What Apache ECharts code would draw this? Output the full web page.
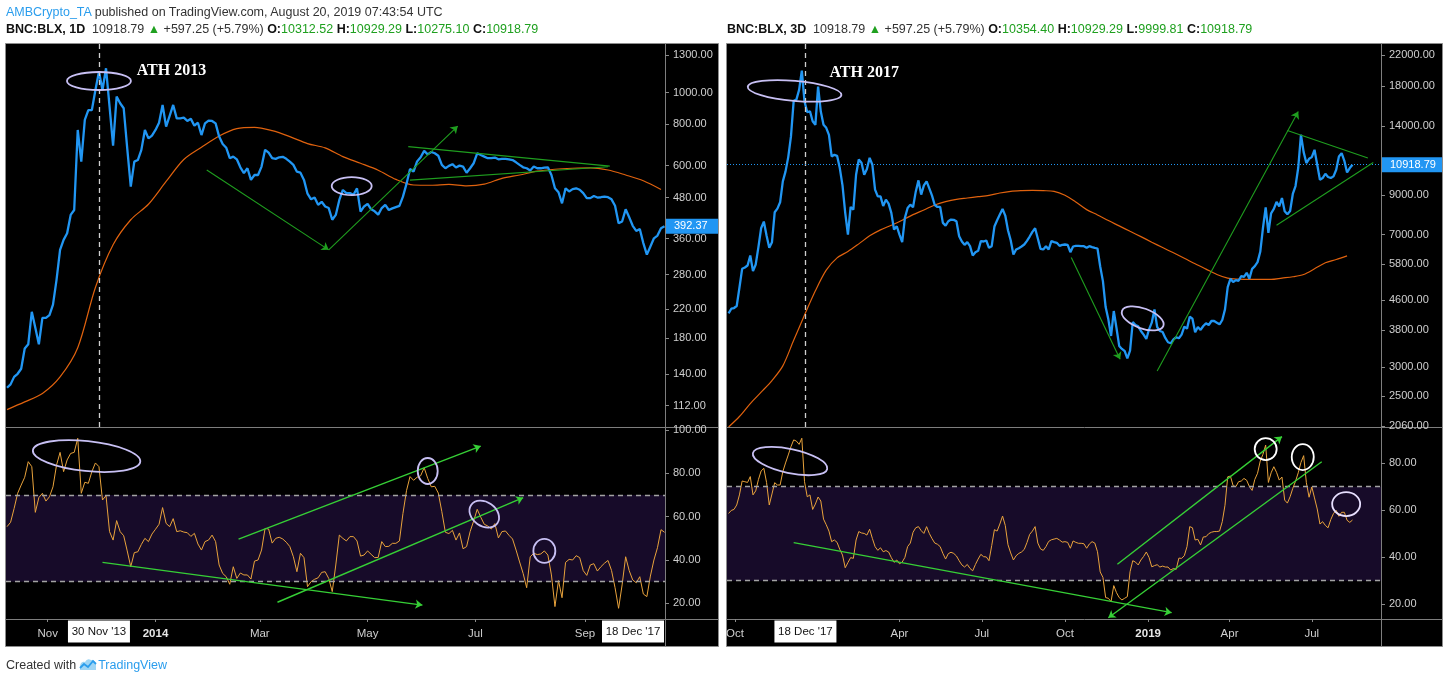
<!DOCTYPE html>
<html>
<head>
<meta charset="utf-8">
<title>BNC:BLX</title>
<script src="https://cdn.jsdelivr.net/npm/echarts@6.0.0/dist/echarts.min.js"></script>
<style>
html,body{margin:0;padding:0;width:1449px;height:683px;background:#fff;overflow:hidden;}
body{font-family:"Liberation Sans",Arial,sans-serif;}
#chart{position:absolute;left:0;top:0;width:1449px;height:683px;}
.t{position:absolute;white-space:nowrap;font-size:12.5px;color:#333;line-height:16px;}
.b{font-weight:bold;color:#111;}
.g{color:#1fa01f;}
.bl{color:#2a9ded;}
.lg{display:inline-block;vertical-align:-2px;margin:0 1px 0 3px;}
</style>
</head>
<body>
<div id="chart"></div>
<div class="t" style="left:6px;top:4px;"><span class="bl">AMBCrypto_TA</span> published on TradingView.com, August 20, 2019 07:43:54 UTC</div>
<div class="t" style="left:6px;top:21px;"><span class="b">BNC:BLX, 1D</span>&nbsp; 10918.79 <span class="g">▲</span> +597.25 (+5.79%) <span class="b">O:</span><span class="g">10312.52</span> <span class="b">H:</span><span class="g">10929.29</span> <span class="b">L:</span><span class="g">10275.10</span> <span class="b">C:</span><span class="g">10918.79</span></div>
<div class="t" style="left:727px;top:21px;"><span class="b">BNC:BLX, 3D</span>&nbsp; 10918.79 <span class="g">▲</span> +597.25 (+5.79%) <span class="b">O:</span><span class="g">10354.40</span> <span class="b">H:</span><span class="g">10929.29</span> <span class="b">L:</span><span class="g">9999.81</span> <span class="b">C:</span><span class="g">10918.79</span></div>
<div class="t" style="left:6px;top:657px;">Created with<svg class="lg" width="18" height="13" viewBox="0 0 18 13"><path d="M1 12 L1 8 Q2 3 6 4 Q8 0 12 2 Q17 2 17 7 L17 12 Z" fill="#9fd6f5"/><path d="M1 10 L5 6 L9 9 L14 3 L17 6" fill="none" stroke="#2a9ded" stroke-width="1.8"/></svg><span class="bl">TradingView</span></div>
<script>
// ---------------- data ----------------
const leftStart = '2013-10-09', leftStep = 2;
const leftPrice = [127,130,137,140,145,167,172,216,193,172,
207,207,211,227,270,333,357,374,425,440,
770,617,826,885,885,1018,1157,1018,1185,906,
690,972,928,896,677,518,617,624,670,770,
726,740,770,810,917,788,849,917,835,835,
839,820,832,793,810,743,806,822,820,806,
735,698,680,632,639,627,593,569,589,543,
562,562,596,670,657,632,629,636,638,629,
617,603,575,571,543,493,474,480,456,466,
451,446,411,425,472,506,495,495,489,512,
435,451,459,442,436,426,446,456,440,445,
449,453,483,528,586,575,618,636,665,649,
660,654,643,603,589,599,606,592,600,596,
571,589,610,654,646,639,632,632,635,627,
629,629,627,624,614,603,593,589,580,596,
589,589,592,593,562,512,498,461,512,501,
509,512,507,495,478,478,485,480,481,483,
481,474,453,401,406,442,418,394,380,385,
349,322,341,361,368,387,392.37];
const leftRsi = [55.4,57.4,63.8,70.8,74.6,78.2,85.4,83.1,62.0,68.8,
70.8,67.2,69.2,73.8,83.8,89.7,80.8,86.2,89.2,89.7,
96.2,70.8,75.9,75.4,80.8,84.8,83.1,67.7,69.7,53.1,
49.2,58.2,53.1,51.2,44.2,36.9,43.4,43.8,47.2,50.0,
48.5,52.0,54.2,56.5,64.2,56.9,55.4,59.1,53.1,53.5,
52.9,52.6,50.9,52.3,47.4,44.6,48.5,49.2,51.5,48.5,
37.7,33.8,32.3,28.8,36.9,31.5,34.0,33.1,33.1,31.2,
39.5,40.0,44.6,54.6,54.3,47.8,50.0,50.5,49.7,48.2,
46.2,41.5,34.6,43.1,41.1,27.7,30.0,31.1,31.8,34.3,
34.6,31.5,25.4,37.7,51.5,50.0,48.8,50.8,50.8,48.8,
41.8,42.3,44.2,42.6,41.1,41.2,48.5,46.2,46.3,47.7,
47.7,48.8,61.5,72.0,78.5,76.8,78.2,78.9,82.6,77.7,
73.8,74.0,70.9,62.3,52.8,52.2,53.7,49.2,52.5,45.2,
46.2,53.1,58.0,63.4,59.8,56.5,55.7,54.3,56.8,50.2,
53.1,53.4,51.4,49.7,44.6,39.1,33.8,27.2,41.5,43.1,
42.5,42.8,44.2,42.3,33.1,18.5,30.5,22.6,38.9,40.3,
40.0,42.0,41.1,35.1,32.9,37.7,38.3,34.9,36.9,38.5,
39.8,35.2,27.2,17.7,28.5,41.5,35.1,30.8,29.5,32.3,
24.3,23.1,32.6,40.0,45.7,54.0,52.8];
const leftMaStart = '2013-10-09', leftMaStep = 10;
const leftMa = [109,115,122,137,168,256,345,411,458,537,
626,682,738,777,784,766,735,700,679,639,
610,581,545,524,523,526,521,527,549,562,
577,585,589,591,582,562,540,508];

const rightStart = '2017-09-24', rightStep = 3;
const rightPrice = [4233,4360,4379,4435,4984,5624,5672,5744,6121,5541,
5781,6456,7286,7601,6954,6429,6665,8066,8256,8596,
9825,10469,11468,13084,16415,16555,17607,19906,16346,15273,
15370,14422,14090,17984,15338,14090,13825,13223,11516,11639,
11565,10693,9578,8032,6998,8345,8204,10250,11299,11062,
10250,10625,11418,10923,9317,8930,8930,8398,8743,8524,
8032,7224,7379,6998,6665,7781,8292,8470,8327,9200,
9887,9026,9578,9825,9397,8968,8452,8345,8345,7537,
7410,7618,7699,7683,7618,6924,6694,6553,6665,6498,
6121,6254,6308,6708,6694,6736,6429,6498,7364,7666,
7948,8239,7898,7193,6750,6161,6361,6415,6484,6567,
6722,6910,7118,7286,6822,6388,6361,6498,6361,6708,
6665,6637,6512,6553,6567,6553,6254,6484,6512,6512,
6498,6498,6429,6498,6457,6429,6402,5708,5200,4406,
4074,3664,4296,3856,3438,3373,3330,3178,3337,4006,
3930,3897,3783,3695,3595,3823,3989,4342,3880,3783,
3759,3618,3520,3497,3587,3634,3610,3695,3888,3839,
4144,4091,3751,3880,3807,3905,3972,3930,4031,4031,
3989,3947,4057,4342,5006,5277,5167,5233,5211,5367,
5344,5483,5277,5624,5720,5868,6268,7301,8327,7073,
8015,8239,8614,8380,8836,8117,7964,8135,9064,9537,
10716,13223,11839,11039,11347,11468,12016,10923,9929,10035,
10314,10099,10035,10142,10580,11516,11764,11199,10403,10693,
10918.79];
const rightRsi = [58.6,59.9,60.3,62.2,66.5,72.4,72.1,71.8,74.3,66.5,
68.2,73.0,76.7,77.8,71.8,62.2,66.9,71.7,70.7,70.7,
76.4,80.1,83.5,87.0,89.9,89.4,88.0,90.6,72.1,65.7,
66.5,60.3,62.6,65.6,63.9,56.2,53.8,51.1,46.6,47.3,
46.3,43.3,40.9,35.5,37.7,39.8,39.5,47.3,50.9,50.3,
50.1,49.4,51.9,48.0,44.5,42.9,44.0,42.3,42.8,42.2,
39.8,37.8,38.8,37.2,37.9,39.9,44.5,46.0,50.6,52.5,
53.0,51.3,50.1,53.0,50.1,47.9,46.0,45.5,44.5,41.6,
39.2,41.5,42.1,41.6,40.5,38.5,36.7,35.8,36.9,35.2,
34.2,36.9,39.2,41.2,40.2,40.1,38.5,44.9,51.7,51.1,
54.1,57.5,53.5,45.3,41.8,38.8,40.6,41.6,42.2,43.3,
46.2,49.7,51.1,53.0,46.0,43.5,42.9,44.5,46.7,47.4,
47.7,48.0,47.3,46.4,46.6,46.3,43.8,46.9,46.3,45.9,
45.9,45.7,43.8,45.6,46.6,46.0,42.3,33.7,31.4,22.8,
22.5,21.1,27.9,24.9,22.8,21.8,22.5,23.2,33.8,38.5,
37.9,36.7,38.8,40.3,42.2,39.9,35.9,36.4,36.8,35.8,
36.2,35.8,35.8,34.5,35.2,34.8,39.6,39.5,40.6,44.5,
53.0,52.5,47.3,47.6,45.2,48.6,48.7,50.0,50.6,50.9,
50.9,51.1,55.1,62.1,74.2,74.5,70.4,70.0,72.1,72.4,
73.5,72.7,70.0,68.4,73.1,75.7,80.9,83.8,87.7,71.8,
75.9,78.5,76.1,72.8,74.1,64.3,63.0,65.7,69.3,72.3,
75.9,80.3,83.2,71.7,65.5,69.9,65.2,60.5,54.1,55.1,
53.5,52.5,56.0,58.6,59.9,57.4,59.1,59.1,55.7,54.8,
55.8];
const rightMaStart = '2017-09-24', rightMaStep = 12;
const rightMa = [2050,2192,2381,2560,2757,3027,3564,4188,4889,5577,
6031,6281,6594,6939,7209,7426,7666,7946,8186,8451,
8632,8761,8836,8911,8987,9122,9219,9259,9278,9259,
9219,8987,8614,8204,7930,7650,7395,7145,6906,6665,
6441,6228,6018,5806,5612,5425,5300,5266,5255,5255,
5255,5300,5345,5425,5623,5843,5968,6108];

// tick labels
const leftPriceTicks = [112,140,180,220,280,360,480,600,800,1000,1300];
const rightPriceTicks = [2060,2500,3000,3800,4600,5800,7000,9000,14000,18000,22000];
const leftRsiTicks = [20,40,60,80,100];
const rightRsiTicks = [20,40,60,80];
const leftTimeTicks = ['2013-11-01','2014-01-01','2014-03-01','2014-05-01','2014-07-01','2014-09-01'];
const leftTimeLabels = ['Nov','2014','Mar','May','Jul','Sep'];
const rightTimeTicks = ['2017-10-01','2018-04-01','2018-07-01','2018-10-01','2019-01-01','2019-04-01','2019-07-01'];
const rightTimeLabels = ['Oct','Apr','Jul','Oct','2019','Apr','Jul'];
const crossLeft = '2013-11-30', crossRight = '2017-12-18';
const crossLeftLabel = "30 Nov '13", crossRightLabel = "18 Dec '17";
const rsiLevels = [30, 70];

// drawn annotations (data coordinates): [date1, value1, date2, value2, arrow]
const leftPriceLines = [
  ['2014-01-30', 582, '2014-04-09', 333, 'end'],
  ['2014-04-09', 333, '2014-06-21', 791, 'end'],
  ['2014-05-24', 685, '2014-09-15', 598, 'none'],
  ['2014-05-25', 542, '2014-09-14', 595, 'none']
];
const leftRsiLines = [
  ['2013-12-02', 38.9, '2014-06-01', 19.2, 'end'],
  ['2014-02-17', 49.6, '2014-07-04', 92.6, 'end'],
  ['2014-03-11', 20.5, '2014-07-28', 68.75, 'end']
];
const rightPriceLines = [
  ['2018-10-08', 6046, '2018-12-01', 3157, 'end'],
  ['2019-01-11', 2930, '2019-06-16', 15334, 'end'],
  ['2019-06-04', 13587, '2019-09-01', 11402, 'none'],
  ['2019-05-23', 7423, '2019-09-07', 11086, 'none']
];
const rightRsiLines = [
  ['2017-12-05', 46.2, '2019-01-27', 16.4, 'end'],
  ['2018-11-28', 37.0, '2019-05-29', 91.3, 'end'],
  ['2018-11-18', 14.2, '2019-07-12', 80.6, 'start']
];
// circled spots: [pane, date, value]
const circleSpots = [
  ['lp','2013-11-30',1084], ['lp','2014-04-22',520],
  ['lr','2013-11-23',88.0], ['lr','2014-06-04',81.1], ['lr','2014-07-06',61.2], ['lr','2014-08-09',44.2],
  ['rp','2017-12-06',17497], ['rp','2018-12-26',4099],
  ['rr','2017-12-01',80.9], ['rr','2019-05-11',86.0], ['rr','2019-06-21',82.6], ['rr','2019-08-08',62.6]
];
const noteTexts = [['lp','2014-01-10',1166,'ATH 2013'], ['rp','2018-02-21',19620,'ATH 2017']];

// ---------------- styles ----------------
const circleShapes = [ // rx, ry, clockwise deg, color
  [32,9,0,'#c8c0f4'],[20,9,0,'#c8c0f4'],
  [54,15,6,'#c8c0f4'],[10,13,0,'#c8c0f4'],[16,12,35,'#c8c0f4'],[11,12,0,'#c8c0f4'],
  [47,10,5,'#c8c0f4'],[22,10,20,'#c8c0f4'],
  [38,12,12,'#c8c0f4'],[11,11,0,'#ffffff'],[11,13,0,'#ffffff'],[14,12,0,'#e8e0ff']
];
const FONT = '"Liberation Sans", Arial, sans-serif';
const BLUE = '#2196f3', MA = '#e0620e', RSI = '#e9a33c';
const GREEN_D = '#1f9e1f', GREEN_B = '#36cf36';

function toTime(s, extraDays) {
  const p = s.split('-').map(Number);
  return new Date(p[0], p[1]-1, p[2]).getTime() + (extraDays || 0) * 86400000;
}
function series(start, step, arr, tf) {
  const p = start.split('-').map(Number);
  return arr.map((v, i) => [new Date(p[0], p[1]-1, p[2] + i*step).getTime(), tf ? tf(v) : v]);
}
const lg = Math.log10;
const Lmin = toTime('2013-10-08', 0.41), Lmax = toTime('2014-10-16', 0.26);
const Rmin = toTime('2017-09-22', 0.26), Rmax = toTime('2019-09-15', 0.53);

function mkLines(lines, tf, color, width) {
  return lines.map(([d1,v1,d2,v2,arrow]) => [
    {coord:[toTime(d1), tf(v1)], symbol: arrow==='start'?'arrow':'none', symbolSize:7, lineStyle:{color:color, width:width, type:'solid'}},
    {coord:[toTime(d2), tf(v2)], symbol: arrow==='end'?'arrow':'none', symbolSize:7}
  ]);
}
const ident = v => v;

// date axes are value axes holding timestamps
function timeAxis(grid, min, max, ticks, labels, show) {
  const tickTimes = ticks.map(s => toTime(s));
  return {
    gridIndex: grid, type:'value', min:min, max:max, show: show, scale:true,
    splitLine:{show:false}, axisLine:{show:false},
    axisTick:{show:true, customValues: tickTimes, length:3, lineStyle:{color:'#8a8a8a'}},
    axisLabel:{customValues: tickTimes, color:'#cfcfcf', fontSize:11.5, fontFamily:FONT, margin:9,
      formatter: v => { let k = -1; tickTimes.forEach((t,i) => { if (Math.abs(t - v) < 3600000) k = i; });
        if (k < 0) return ''; const l = labels[k]; return /^\d{4}$/.test(l) ? '{b|' + l + '}' : l; },
      rich:{b:{fontWeight:'bold', color:'#e6e6e6', fontSize:11.5, fontFamily:FONT}}}
  };
}
function valAxis(grid, min, max, ticks, tf, fmt) {
  const cv = ticks.map(tf);
  return {
    gridIndex: grid, type:'value', position:'right', min:min, max:max, scale:true,
    splitLine:{show:false}, axisLine:{show:false},
    axisTick:{show:true, customValues: cv, length:4, lineStyle:{color:'#8a8a8a'}},
    axisLabel:{customValues: cv, color:'#cfcfcf', fontSize:11, fontFamily:FONT, margin:8, formatter: fmt}
  };
}
const priceFmt = v => Math.pow(10, v).toFixed(2);
const rsiFmt = v => Number(v).toFixed(2);

const chart = echarts.init(document.getElementById('chart'), null, {renderer:'canvas'});
const option = {
  animation:false,
  backgroundColor:'transparent',
  grid:[
    {left:6, top:43, width:659, height:384, outerBoundsMode:'none'},
    {left:6, top:427, width:659, height:192, outerBoundsMode:'none'},
    {left:727, top:43, width:654, height:384, outerBoundsMode:'none'},
    {left:727, top:427, width:654, height:192, outerBoundsMode:'none'}
  ],
  xAxis:[
    timeAxis(0, Lmin, Lmax, leftTimeTicks, leftTimeLabels, false),
    timeAxis(1, Lmin, Lmax, leftTimeTicks, leftTimeLabels, true),
    timeAxis(2, Rmin, Rmax, rightTimeTicks, rightTimeLabels, false),
    timeAxis(3, Rmin, Rmax, rightTimeTicks, rightTimeLabels, true)
  ],
  yAxis:[
    valAxis(0, lg(96.5), lg(1414), leftPriceTicks, lg, priceFmt),
    valAxis(1, 12.77, 101.4, leftRsiTicks, ident, rsiFmt),
    valAxis(2, lg(2050), lg(23750), rightPriceTicks, lg, priceFmt),
    valAxis(3, 13.69, 95.39, rightRsiTicks, ident, rsiFmt)
  ],
  series:[
    {type:'line', xAxisIndex:0, yAxisIndex:0, data: series(leftMaStart, leftMaStep, leftMa, lg), smooth:0.3, showSymbol:false, symbol:'none', lineStyle:{color:MA, width:1.2}, z:2},
    {type:'line', xAxisIndex:0, yAxisIndex:0, data: series(leftStart, leftStep, leftPrice, lg), showSymbol:false, symbol:'none', lineStyle:{color:BLUE, width:2.3}, z:3,
      markLine:{silent:true, symbol:'none', label:{show:false}, z:6,
        data:[{xAxis: toTime(crossLeft), lineStyle:{color:'#cfcfcf', type:[5,4], width:1.3}}].concat(mkLines(leftPriceLines, lg, GREEN_D, 1.1))}},
    {type:'line', xAxisIndex:1, yAxisIndex:1, data: series(leftStart, leftStep, leftRsi), showSymbol:false, symbol:'none', lineStyle:{color:RSI, width:1}, z:3,
      markArea:{silent:true, itemStyle:{color:'#170b29'}, data:[[{yAxis:rsiLevels[0]},{yAxis:rsiLevels[1]}]]},
      markLine:{silent:true, symbol:'none', label:{show:false}, z:6,
        data: rsiLevels.map(l => ({yAxis:l, lineStyle:{color:'#a3a3a3', type:[5,4], width:1.4}})).concat(mkLines(leftRsiLines, ident, GREEN_B, 1.4))}},
    {type:'line', xAxisIndex:2, yAxisIndex:2, data: series(rightMaStart, rightMaStep, rightMa, lg), smooth:0.3, showSymbol:false, symbol:'none', lineStyle:{color:MA, width:1.2}, z:2},
    {type:'line', xAxisIndex:2, yAxisIndex:2, data: series(rightStart, rightStep, rightPrice, lg), showSymbol:false, symbol:'none', lineStyle:{color:BLUE, width:2.3}, z:3,
      markLine:{silent:true, symbol:'none', label:{show:false}, z:6,
        data:[{xAxis: toTime(crossRight), lineStyle:{color:'#cfcfcf', type:[5,4], width:1.3}},
              {yAxis: lg(rightPrice[rightPrice.length-1]), lineStyle:{color:BLUE, type:[1,2], width:1}}].concat(mkLines(rightPriceLines, lg, GREEN_D, 1.1))}},
    {type:'line', xAxisIndex:3, yAxisIndex:3, data: series(rightStart, rightStep, rightRsi), showSymbol:false, symbol:'none', lineStyle:{color:RSI, width:1}, z:3,
      markArea:{silent:true, itemStyle:{color:'#170b29'}, data:[[{yAxis:rsiLevels[0]},{yAxis:rsiLevels[1]}]]},
      markLine:{silent:true, symbol:'none', label:{show:false}, z:6,
        data: rsiLevels.map(l => ({yAxis:l, lineStyle:{color:'#a3a3a3', type:[5,4], width:1.4}})).concat(mkLines(rightRsiLines, ident, GREEN_B, 1.4))}}
  ]
};
chart.setOption(option);

// ---------------- overlay elements positioned through the axes ----------------
const paneIdx = {lp:0, lr:1, rp:2, rr:3};
function px(pane, date, value) {
  const i = paneIdx[pane];
  const v = (pane === 'lp' || pane === 'rp') ? lg(value) : value;
  return chart.convertToPixel({gridIndex:i}, [toTime(date), v]);
}
const g = [];
g.push({type:'rect', silent:true, z:-10, shape:{x:5.5, y:43.5, width:713, height:603}, style:{fill:'#000', stroke:'#8c8c8c', lineWidth:1}});
g.push({type:'rect', silent:true, z:-10, shape:{x:726.5, y:43.5, width:716, height:603}, style:{fill:'#000', stroke:'#8c8c8c', lineWidth:1}});
[[5.5,718.5],[726.5,1442.5]].forEach(([a,b]) => [427.5, 619.5].forEach(y => g.push({type:'line', silent:true, z:-5, shape:{x1:a, y1:y, x2:b, y2:y}, style:{stroke:'#7e7e7e', lineWidth:1}})));
[665.5, 1381.5].forEach(x => g.push({type:'line', silent:true, z:-5, shape:{x1:x, y1:43.5, x2:x, y2:646.5}, style:{stroke:'#7e7e7e', lineWidth:1}}));

circleSpots.forEach(([pane, d, v], i) => {
  const p = px(pane, d, v); const s = circleShapes[i];
  g.push({type:'ellipse', silent:true, z:20, x:p[0], y:p[1], rotation:-s[2]*Math.PI/180,
    shape:{cx:0, cy:0, rx:s[0], ry:s[1]}, style:{fill:'none', stroke:s[3], lineWidth:1.8}});
});
noteTexts.forEach(([pane, d, v, txt]) => {
  const p = px(pane, d, v);
  g.push({type:'text', silent:true, z:20, x:p[0], y:p[1], style:{text:txt, fill:'#ffffff', font:'bold 16px "Liberation Serif", "Times New Roman", serif', align:'center', verticalAlign:'middle', textAlign:'center', textVerticalAlign:'middle'}});
});
function priceTag(pane, value, x0, w) {
  const p = px(pane, pane === 'lp' ? leftStart : rightStart, value);
  g.push({type:'rect', silent:true, z:20, shape:{x:x0, y:p[1]-7.5, width:w, height:15}, style:{fill:BLUE}});
  g.push({type:'text', silent:true, z:21, x:x0+8, y:p[1], style:{text: value.toFixed(2), fill:'#fff', font:'11px ' + FONT, verticalAlign:'middle', textVerticalAlign:'middle'}});
}
priceTag('lp', leftPrice[leftPrice.length-1], 666, 52);
priceTag('rp', rightPrice[rightPrice.length-1], 1382, 60);
function dateTag(cx, txt) {
  g.push({type:'rect', silent:true, z:20, shape:{x:cx-31, y:620.5, width:62, height:22}, style:{fill:'#fff'}});
  g.push({type:'text', silent:true, z:21, x:cx, y:631.5, style:{text:txt, fill:'#111', font:'11.5px ' + FONT, align:'center', verticalAlign:'middle', textAlign:'center', textVerticalAlign:'middle'}});
}
dateTag(px('lr', crossLeft, 50)[0], crossLeftLabel);
dateTag(px('rr', crossRight, 50)[0], crossRightLabel);
dateTag(664 - 31, crossRightLabel);
chart.setOption({graphic:{elements:g}});
</script>
</body>
</html>
